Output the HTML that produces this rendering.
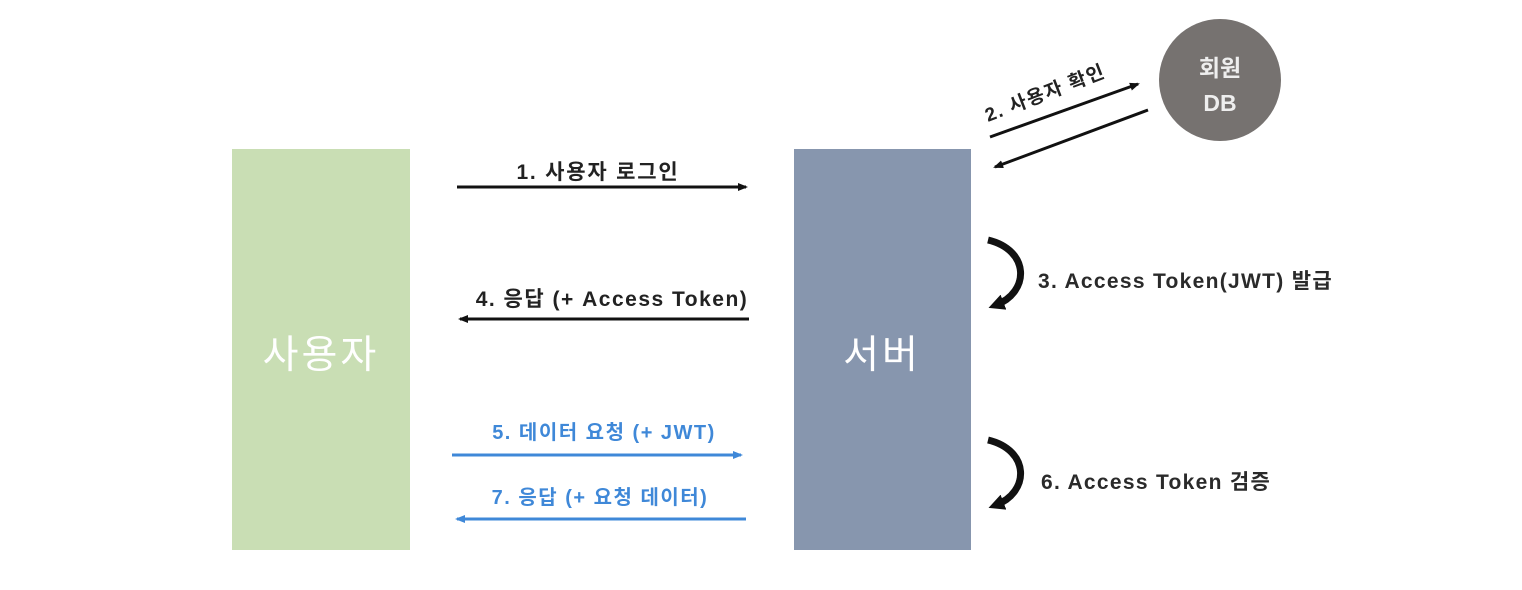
<!DOCTYPE html>
<html><head><meta charset="utf-8"><style>
html,body{margin:0;padding:0;background:#fff;width:1522px;height:590px;overflow:hidden}
svg{display:block}
text{font-family:"Liberation Sans","Noto Sans CJK KR",sans-serif}
.b{font-weight:bold}
</style></head><body>
<svg width="1522" height="590" viewBox="0 0 1522 590" xmlns="http://www.w3.org/2000/svg">
<defs>
<marker id="ab" markerWidth="10" markerHeight="10" refX="8" refY="5" orient="auto" markerUnits="userSpaceOnUse"><path d="M0,1 L10,5 L0,9 Z" fill="#111"/></marker>
<marker id="au" markerWidth="10" markerHeight="10" refX="8" refY="5" orient="auto" markerUnits="userSpaceOnUse"><path d="M0,1 L10,5 L0,9 Z" fill="#3f88d8"/></marker>
<marker id="ac" markerWidth="16" markerHeight="16" refX="8" refY="8" orient="auto" markerUnits="userSpaceOnUse"><path d="M0,0 L16,8 L0,16 Z" fill="#111"/></marker>
</defs>
<rect x="232" y="149" width="178" height="401" fill="#c9deb4"/>
<rect x="794" y="149" width="177" height="401" fill="#8796ae"/>
<text x="321" y="368" font-size="39" fill="#fff" text-anchor="middle" letter-spacing="3">사용자</text>
<text x="882" y="368" font-size="39" fill="#fff" text-anchor="middle" letter-spacing="3">서버</text>
<circle cx="1220" cy="80" r="61" fill="#767270"/>
<text x="1220" y="76" font-size="23" class="b" fill="#eee" text-anchor="middle">회원</text>
<text x="1220" y="111" font-size="23" class="b" fill="#eee" text-anchor="middle">DB</text>

<line x1="457" y1="187" x2="746" y2="187" stroke="#111" stroke-width="3" marker-end="url(#ab)"/>
<text x="598" y="179" font-size="21" class="b" fill="#222" text-anchor="middle" letter-spacing="1.8">1. 사용자 로그인</text>
<line x1="749" y1="319" x2="460" y2="319" stroke="#111" stroke-width="3" marker-end="url(#ab)"/>
<text x="612" y="306" font-size="21" class="b" fill="#222" text-anchor="middle" letter-spacing="1.5">4. 응답 (+ Access Token)</text>
<line x1="452" y1="455" x2="741" y2="455" stroke="#3f88d8" stroke-width="3" marker-end="url(#au)"/>
<text x="604" y="439" font-size="20" class="b" fill="#3f88d8" text-anchor="middle" letter-spacing="1.5">5. 데이터 요청 (+ JWT)</text>
<line x1="746" y1="519" x2="457" y2="519" stroke="#3f88d8" stroke-width="3" marker-end="url(#au)"/>
<text x="600" y="504" font-size="20" class="b" fill="#3f88d8" text-anchor="middle" letter-spacing="1.5">7. 응답 (+ 요청 데이터)</text>

<line x1="990" y1="137" x2="1138" y2="84" stroke="#111" stroke-width="3" marker-end="url(#ab)"/>
<line x1="1148" y1="110" x2="995" y2="167" stroke="#111" stroke-width="3" marker-end="url(#ab)"/>
<text x="0" y="0" font-size="19" class="b" fill="#222" letter-spacing="1.5" transform="translate(988,122) rotate(-21)">2. 사용자 확인</text>

<path d="M988,240 C1030,250 1030,292 996,305" fill="none" stroke="#111" stroke-width="7" marker-end="url(#ac)"/>
<text x="1038" y="288" font-size="21" class="b" fill="#2a2a2a" letter-spacing="1.3">3. Access Token(JWT) 발급</text>
<path d="M988,440 C1030,450 1030,492 996,505" fill="none" stroke="#111" stroke-width="7" marker-end="url(#ac)"/>
<text x="1041" y="489" font-size="21" class="b" fill="#2a2a2a" letter-spacing="1.3">6. Access Token 검증</text>
</svg>
</body></html>
